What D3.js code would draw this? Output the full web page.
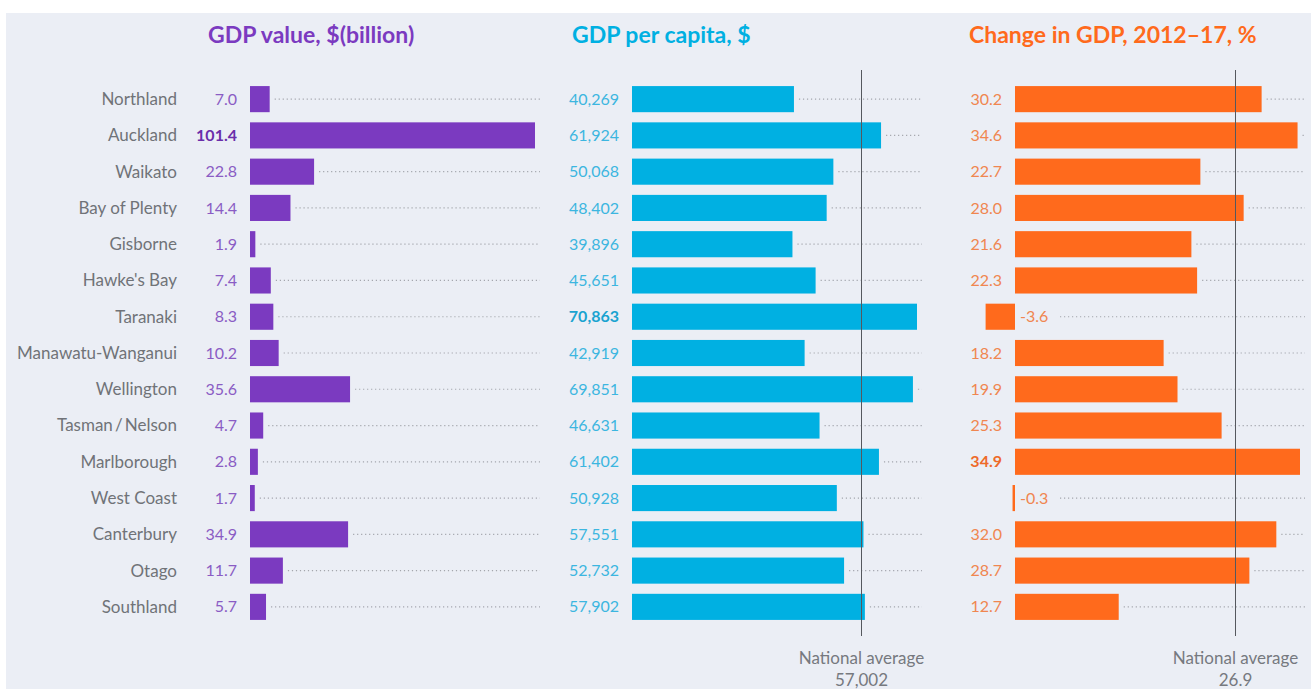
<!DOCTYPE html>
<html>
<head>
<meta charset="utf-8">
<script src="https://cdn.jsdelivr.net/npm/d3@7"></script>
<style>
	body { margin: 0; background: #fff; }
	svg { display: block; }
	text { font-family: Lato, "Open Sans", sans-serif; }
</style>
</head>
<body>
<script>
const w = 1311;
const h = 689;

const regions = ['Northland', 'Auckland', 'Waikato', 'Bay of Plenty', 'Gisborne', "Hawke's Bay", 'Taranaki',
	'Manawatu-Wanganui', 'Wellington', 'Tasman\u2009/\u2009Nelson', 'Marlborough', 'West Coast', 'Canterbury', 'Otago', 'Southland'];
const gdpValue = [7.0, 101.4, 22.8, 14.4, 1.9, 7.4, 8.3, 10.2, 35.6, 4.7, 2.8, 1.7, 34.9, 11.7, 5.7];
const gdpPerCapita = [40269, 61924, 50068, 48402, 39896, 45651, 70863, 42919, 69851, 46631, 61402, 50928, 57551, 52732, 57902];
const gdpChange = [30.2, 34.6, 22.7, 28.0, 21.6, 22.3, -3.6, 18.2, 19.9, 25.3, 34.9, -0.3, 32.0, 28.7, 12.7];
const nationalPerCapita = 57002;
const nationalChange = 26.9;

// d3 uses a real minus sign, the chart uses a plain hyphen
const oneDec = function(v) { return d3.format('.1f')(v).replace('\u2212', '-'); };

const panels = [
	{ title: 'GDP value, $(billion)', values: gdpValue, fmt: oneDec, zero: 250, titleX: 208,
		bar: '#7b3ac0', label: '#8a5cc4', strong: '#6a2eaa', avg: null },
	{ title: 'GDP per capita, $', values: gdpPerCapita, fmt: d3.format(',d'), zero: 632, titleX: 572,
		bar: '#00b0e2', label: '#3cb6e0', strong: '#1aa3d0', avg: nationalPerCapita },
	{ title: 'Change in GDP, 2012\u201317, %', values: gdpChange, fmt: oneDec, zero: 1015, titleX: 969,
		bar: '#ff6a1c', label: '#f08650', strong: '#ee6a2a', avg: nationalChange }
];

const svg = d3.select('body').append('svg').attr('width', w).attr('height', h);

svg.append('rect').attr('x', 6).attr('y', 13).attr('width', w - 6).attr('height', h - 13).attr('fill', '#ebeef5');

let y = d3.scaleBand().domain(regions).range([ 81, 625 ]).paddingInner(0.28).paddingOuter(0.14);

// region names
svg.selectAll('.region')
	.data(regions)
	.enter()
	.append('text')
	.attr('class', 'region')
	.attr('x', 177)
	.attr('y', function(d) { return y(d) + y.bandwidth() / 2; })
	.attr('dy', '0.35em')
	.attr('text-anchor', 'end')
	.attr('fill', '#707378')
	.style('font-size', '17px')
	.text(function(d) { return d; });

panels.forEach(function(p) {
	const data = regions.map(function(r, i) { return { region: r, value: p.values[i] }; });
	const maxV = d3.max(p.values);
	const x = d3.scaleLinear().domain([ 0, maxV ]).range([ p.zero, p.zero + 285 ]);
	const dotEnd = x(maxV) + 5;
	const g = svg.append('g');

	g.append('text')
		.attr('x', p.titleX)
		.attr('y', 43)
		.attr('fill', p.bar)
		.style('font-size', '23px')
		.style('font-weight', 'bold')
		.text(p.title);

	// dotted leader lines
	g.selectAll('.dots')
		.data(data.filter(function(d) { return d.value !== maxV; }))
		.enter()
		.append('line')
		.attr('x1', function(d) { return d.value < 0 ? x(0) + 45 : x(d.value) + 5; })
		.attr('x2', dotEnd)
		.attr('y1', function(d) { return y(d.region) + y.bandwidth() / 2; })
		.attr('y2', function(d) { return y(d.region) + y.bandwidth() / 2; })
		.attr('stroke', '#a4a6ad')
		.attr('stroke-width', 1.2)
		.attr('stroke-dasharray', '1.2,2.8');

	g.selectAll('rect')
		.data(data)
		.enter()
		.append('rect')
		.attr('x', function(d) { return Math.min(x(0), x(d.value)); })
		.attr('y', function(d) { return y(d.region); })
		.attr('width', function(d) { return Math.max(2, Math.abs(x(d.value) - x(0))); })
		.attr('height', y.bandwidth())
		.attr('fill', p.bar);

	g.selectAll('.val-label')
		.data(data)
		.enter()
		.append('text')
		.attr('x', function(d) { return d.value < 0 ? x(0) + 5 : x(0) - 13; })
		.attr('y', function(d) { return y(d.region) + y.bandwidth() / 2; })
		.attr('dy', '0.35em')
		.attr('text-anchor', function(d) { return d.value < 0 ? 'start' : 'end'; })
		.attr('fill', function(d) { return d.value === maxV ? p.strong : p.label; })
		.style('font-size', '16px')
		.style('font-weight', function(d) { return d.value === maxV ? 'bold' : 'normal'; })
		.text(function(d) { return p.fmt(d.value); });

	if (p.avg !== null) {
		const ax = Math.round(x(p.avg)) + 0.5;
		g.append('line')
			.attr('x1', ax).attr('x2', ax)
			.attr('y1', 70).attr('y2', 636)
			.attr('stroke', '#55585e')
			.attr('stroke-width', 1);
		g.append('text')
			.attr('x', ax).attr('y', 664)
			.attr('text-anchor', 'middle')
			.attr('fill', '#76797f')
			.style('font-size', '17px')
			.text('National average');
		g.append('text')
			.attr('x', ax).attr('y', 686)
			.attr('text-anchor', 'middle')
			.attr('fill', '#76797f')
			.style('font-size', '17px')
			.text(p.fmt(p.avg));
	}
});
</script>
</body>
</html>
